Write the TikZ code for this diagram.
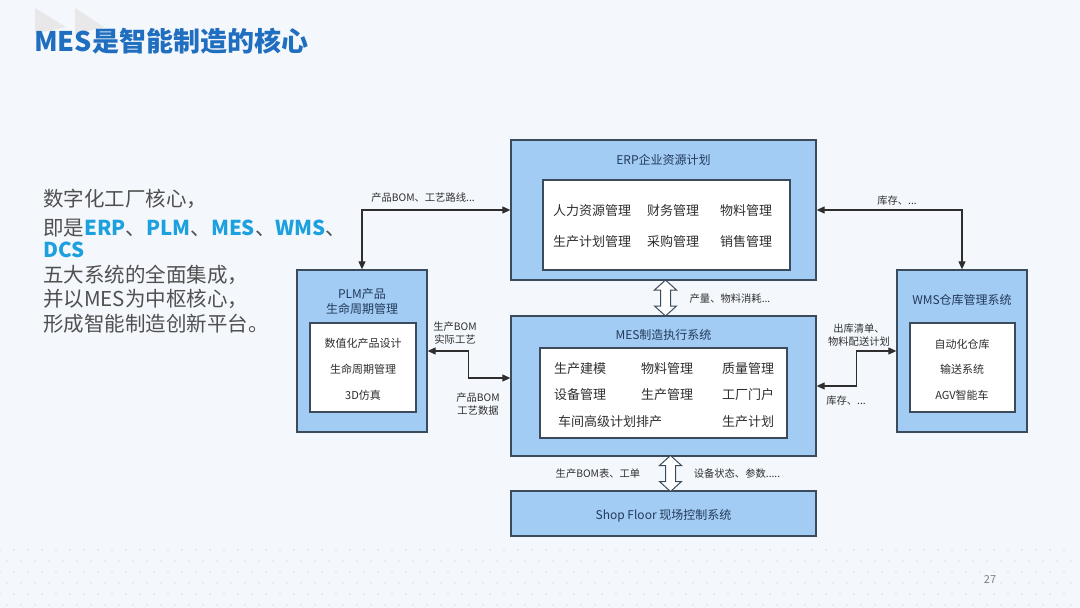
\documentclass[tikz,border=0pt]{standalone}
\usepackage{fontspec}
\setmainfont{Noto Sans CJK SC}
\usetikzlibrary{arrows.meta,calc}
\definecolor{bg}{HTML}{F4F8FD}
\definecolor{boxfill}{HTML}{A2CCF4}
\definecolor{boxline}{HTML}{3C4B5C}
\definecolor{titleblue}{HTML}{1F6EBF}
\definecolor{hl}{HTML}{1DA0DE}
\definecolor{txtgray}{HTML}{505050}
\definecolor{lbl}{HTML}{2E2E2E}
\definecolor{navy}{HTML}{23395A}
\begin{document}
\begin{tikzpicture}[x=1pt,y=-1pt,
 outerbox/.style={draw=boxline,line width=1.3pt,fill=boxfill,inner sep=0},
 innerbox/.style={draw=boxline,line width=1.1pt,fill=white,inner sep=0},
 boxtitle/.style={font=\fontsize{12}{15}\selectfont,text=navy,align=center},
 item/.style={font=\fontsize{13}{15}\selectfont,text=lbl},
 sitem/.style={font=\fontsize{11}{13}\selectfont,text=lbl},
 lab/.style={font=\fontsize{10.3}{13.5}\selectfont,text=lbl,align=center},
 lefttxt/.style={anchor=west,font=\fontsize{20.5}{24}\selectfont,text=txtgray,inner sep=0},
 conn/.style={draw=lbl,line width=1.1pt,{Triangle[length=8pt,width=7pt]}-{Triangle[length=8pt,width=7pt]}},
 hollow/.style={draw=boxline,line width=1pt,fill=white},
 dblarrow/.pic={\draw[hollow] (0,-18) -- (11,-8) -- (5,-8) -- (5,8) -- (11,8) -- (0,18) -- (-11,8) -- (-5,8) -- (-5,-8) -- (-11,-8) -- cycle;}]
\fill[bg] (0,0) rectangle (1080,608);
\useasboundingbox (0,0) rectangle (1080,608);
% decorative dots
\foreach \i in {0,...,76}{
  \foreach \j in {0,...,5}{
    \fill[boxfill, opacity=0.25] ({\i*14+mod(\j,2)*7}, {550+\j*11}) circle (1.3);
  }
}
% title decoration
\fill[gray!18] (35,8) -- (66,27) -- (35,34) -- cycle;
\fill[gray!18] (75,8) -- (104,27) -- (75,34) -- cycle;
\node[anchor=west,inner sep=0,font=\fontsize{27}{30}\selectfont\bfseries,text=titleblue] (title) at (34,41) {MES是智能制造的核心};
% left text
\node[lefttxt] (t1) at (43,199) {数字化工厂核心，};
\node[lefttxt] (t2) at (43,228) {即是\textcolor{hl}{\bfseries ERP}、\textcolor{hl}{\bfseries PLM}、\textcolor{hl}{\bfseries MES}、\textcolor{hl}{\bfseries WMS}、};
\node[lefttxt,text=hl,font=\fontsize{20.5}{24}\selectfont\bfseries] (t3) at (43,250) {DCS};
\node[lefttxt] (t4) at (43,275) {五大系统的全面集成，};
\node[lefttxt] (t5) at (43,299) {并以MES为中枢核心，};
\node[lefttxt] (t6) at (43,324) {形成智能制造创新平台。};
% ERP
\node[outerbox,minimum width=305pt,minimum height=140pt] (erp) at (663.5,210) {};
\node[boxtitle] (erpt) at (663.5,160) {ERP企业资源计划};
\node[innerbox,minimum width=247pt,minimum height=90pt] (erpi) at (666.5,225) {};
\node[item] (e1) at (592,211) {人力资源管理};
\node[item] (e2) at (673,211) {财务管理};
\node[item] (e3) at (746,211) {物料管理};
\node[item] (e4) at (592,242) {生产计划管理};
\node[item] (e5) at (673,242) {采购管理};
\node[item] (e6) at (746,242) {销售管理};
% PLM
\node[outerbox,minimum width=130pt,minimum height=162pt] (plm) at (362,351) {};
\node[boxtitle] (plmt) at (362,301) {PLM产品\\生命周期管理};
\node[innerbox,minimum width=106pt,minimum height=89pt] (plmi) at (363,367.5) {};
\node[sitem] (p1) at (363,343) {数值化产品设计};
\node[sitem] (p2) at (363,369) {生命周期管理};
\node[sitem] (p3) at (363,395) {3D仿真};
% MES
\node[outerbox,minimum width=305pt,minimum height=140pt] (mes) at (663.5,386) {};
\node[boxtitle] (mest) at (663.5,335) {MES制造执行系统};
\node[innerbox,minimum width=247pt,minimum height=90pt] (mesi) at (663.5,393) {};
\node[item] (m1) at (580,369) {生产建模};
\node[item] (m2) at (667,369) {物料管理};
\node[item] (m3) at (748,369) {质量管理};
\node[item] (m4) at (580,395) {设备管理};
\node[item] (m5) at (667,395) {生产管理};
\node[item] (m6) at (748,395) {工厂门户};
\node[item] (m7) at (610,422) {车间高级计划排产};
\node[item] (m8) at (748,422) {生产计划};
% WMS
\node[outerbox,minimum width=130pt,minimum height=162pt] (wms) at (962,351) {};
\node[boxtitle] (wmst) at (962,300) {WMS仓库管理系统};
\node[innerbox,minimum width=105pt,minimum height=89pt] (wmsi) at (962.5,367.5) {};
\node[sitem] (w1) at (962,344) {自动化仓库};
\node[sitem] (w2) at (962,369) {输送系统};
\node[sitem] (w3) at (962,395) {AGV智能车};
% Shop floor
\node[outerbox,minimum width=305pt,minimum height=45pt] (shop) at (663.5,513.5) {};
\node[boxtitle] (shopt) at (663.5,516) {Shop Floor 现场控制系统};
% connectors
\draw[conn] (erp.west) -| (plm.north);
\draw[conn] (erp.east) -| (wms.north);
\coordinate (mesw) at ($(mes.west)+(0,-8)$);
\draw[conn] (plm.east) -- ++(41,0) |- (mesw);
\draw[conn] (wms.west) -- ++(-40,0) |- (mes.east);
\pic at ($(erp.south)!0.5!(mes.north)+(2,0)$) {dblarrow};
\pic at ($(mes.south)!0.5!(shop.north)+(7,0)$) {dblarrow};
% labels
\node[lab] (l1) at (423,198) {产品BOM、工艺路线...};
\node[lab] (l2) at (897,201) {库存、...};
\node[lab] (l3) at (730,299) {产量、物料消耗...};
\node[lab] (l4) at (455,333) {生产BOM\\实际工艺};
\node[lab] (l5) at (478,404) {产品BOM\\工艺数据};
\node[lab] (l6) at (859,335) {出库清单、\\物料配送计划};
\node[lab] (l7) at (846,401) {库存、...};
\node[lab] (l8) at (598,474) {生产BOM表、工单};
\node[lab] (l9) at (737,474) {设备状态、参数.....};
\node[font=\fontsize{11}{13}\selectfont,text=gray] (pg) at (990,580) {27};
\end{tikzpicture}
\end{document}
